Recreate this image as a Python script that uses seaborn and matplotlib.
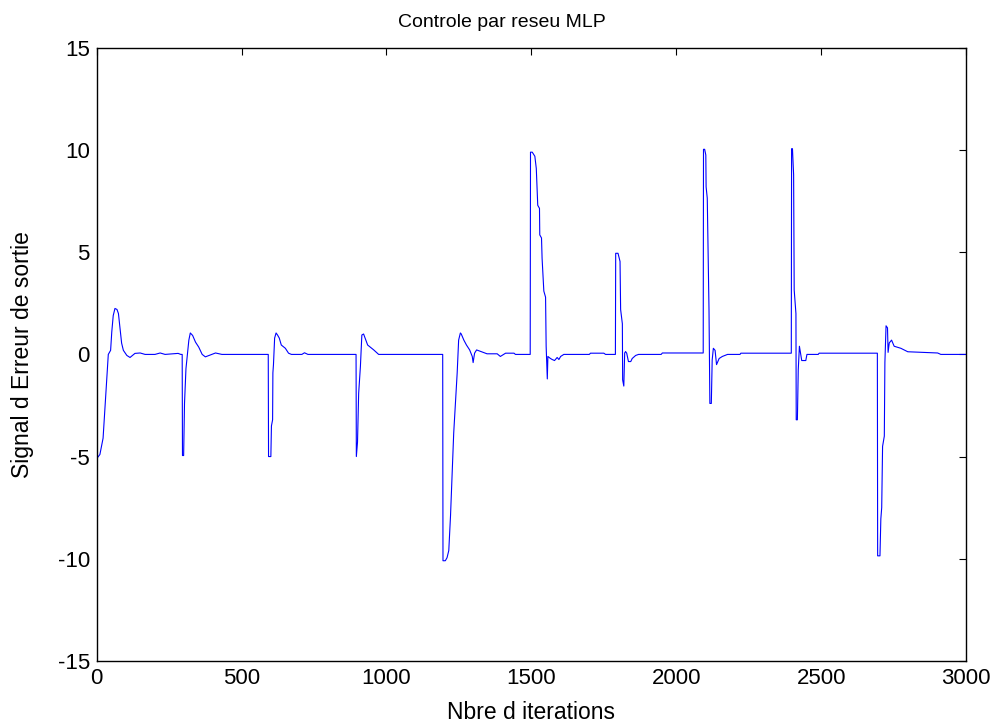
import pandas as pd
import matplotlib
matplotlib.use("Agg")
import matplotlib.pyplot as plt
import seaborn as sns

# error signal, one step of the reference every 300 iterations
iterations = [
    0, 11, 22, 29, 35, 40, 48, 52, 57, 63, 70, 75, 81, 86, 92, 104, 115, 132, 150, 167, 201, 219, 236, 281, 290,
    295, 296, 300, 303, 308, 313, 318, 323, 331, 341, 352, 364, 375, 388, 410, 432,
    592, 593, 601, 603, 607, 608, 610, 614, 619, 624, 630, 637, 651, 662, 672, 708, 717, 729,
    895, 896, 900, 904, 910, 915, 921, 929, 935, 956, 973,
    1194, 1195, 1203, 1209, 1215, 1221, 1226, 1232, 1238, 1244, 1249, 1255, 1258, 1267, 1276, 1287, 1296, 1299,
    1304, 1311, 1324, 1347, 1382, 1393, 1411, 1440, 1445,
    1496, 1497, 1503, 1512, 1517, 1522, 1528, 1529, 1535, 1537, 1543, 1549, 1551, 1555, 1557, 1566, 1572, 1580,
    1589, 1595, 1601, 1612, 1700, 1704, 1750, 1756,
    1790, 1791, 1799, 1806, 1808, 1814, 1815, 1819, 1822, 1825, 1829, 1835, 1843, 1848, 1860, 1870, 1948, 1952,
    2093, 2094, 2098, 2102, 2103, 2107, 2113, 2116, 2121, 2124, 2128, 2134, 2139, 2148, 2159, 2177, 2220, 2223,
    2397, 2398, 2401, 2405, 2407, 2413, 2414, 2418, 2421, 2425, 2433, 2447, 2451, 2490, 2493,
    2694, 2695, 2703, 2706, 2709, 2712, 2718, 2720, 2724, 2729, 2731, 2735, 2743, 2752, 2775, 2799, 2902, 2913, 3000,
]
erreur = [
    -5.1, -4.9, -4.1, -2.5, -1.1, 0.0, 0.2, 1.1, 1.9, 2.25, 2.2, 2.0, 1.2, 0.55, 0.2, -0.05, -0.15, 0.05, 0.07, 0.0, 0.0, 0.07, 0.0, 0.05, 0.0,
    0.0, -4.95, -4.95, -2.4, -0.7, 0.0, 0.7, 1.05, 0.93, 0.6, 0.36, 0.0, -0.12, -0.05, 0.07, 0.0,
    0.0, -5.0, -5.0, -3.5, -3.2, -0.9, -0.5, 0.8, 1.05, 0.95, 0.8, 0.46, 0.3, 0.06, 0.0, 0.0, 0.08, 0.0,
    0.0, -5.0, -4.3, -1.9, -0.6, 0.95, 1.0, 0.7, 0.46, 0.22, 0.0,
    0.0, -10.1, -10.1, -9.95, -9.6, -7.9, -6.1, -3.85, -2.4, -0.9, 0.7, 1.05, 1.0, 0.7, 0.46, 0.22, -0.1, -0.4,
    0.06, 0.22, 0.15, 0.03, 0.03, -0.1, 0.06, 0.06, 0.0,
    0.0, 9.9, 9.9, 9.7, 9.1, 7.3, 7.15, 5.85, 5.7, 4.7, 3.1, 2.8, 0.4, -1.2, -0.1, -0.2, -0.25, -0.3,
    -0.15, -0.25, -0.1, 0.0, 0.0, 0.06, 0.06, 0.0,
    0.0, 4.95, 4.95, 4.55, 2.2, 1.5, -1.25, -1.55, 0.07, 0.14, 0.06, -0.35, -0.35, -0.2, -0.05, 0.0, 0.0, 0.07,
    0.07, 10.04, 10.04, 9.76, 8.2, 7.65, 2.18, -2.4, -2.4, -0.27, 0.3, 0.2, -0.5, -0.2, -0.1, 0.0, 0.0, 0.06,
    0.06, 10.07, 10.07, 8.8, 3.15, 2.0, -3.2, -3.2, -0.75, 0.4, -0.3, -0.3, 0.0, 0.0, 0.06,
    0.06, -9.86, -9.86, -8.05, -7.5, -4.5, -4.0, -0.39, 1.4, 1.3, 0.1, 0.56, 0.7, 0.4, 0.3, 0.13, 0.07, 0.0, 0.0,
]

x_ticks = [0, 500, 1000, 1500, 2000, 2500, 3000]
y_ticks = [-15, -10, -5, 0, 5, 10, 15]

df = pd.DataFrame({"iter": iterations, "err": erreur})

sns.set_theme(style="white")
plt.rcParams['font.family'] = ['Liberation Sans', 'DejaVu Sans']
plt.rcParams.update({
    "axes.unicode_minus": False,
    "text.color": "black", "axes.labelcolor": "black",
    "xtick.color": "black", "ytick.color": "black",
    "xtick.direction": "in", "ytick.direction": "in",
    "xtick.top": True, "ytick.right": True,
    "xtick.major.size": 5, "ytick.major.size": 5,
    "xtick.major.width": 0.8, "ytick.major.width": 0.8,
    "axes.linewidth": 1.0, "axes.edgecolor": "black",
})

fig = plt.figure(figsize=(9.99, 7.27), dpi=100)
ax = fig.add_axes([0.0968, 0.091, 0.8702, 0.843])

sns.lineplot(data=df, x="iter", y="err", sort=False, estimator=None,
             color="#0000ff", linewidth=0.8, ax=ax)

ax.set_xlim(0, 3000)
ax.set_ylim(-15, 15)
ax.set_xticks(x_ticks)
ax.set_yticks(y_ticks)
ax.tick_params(labelsize=16, colors="black", pad=5)
ax.set_title("Controle par reseu MLP", fontsize=14, pad=15, x=0.466, color="black")
ax.set_xlabel("Nbre d iterations", fontsize=16.5, labelpad=9)
ax.set_ylabel("Signal d Erreur de sortie", fontsize=16.5, labelpad=17)

fig.savefig("out.png", dpi=100)
